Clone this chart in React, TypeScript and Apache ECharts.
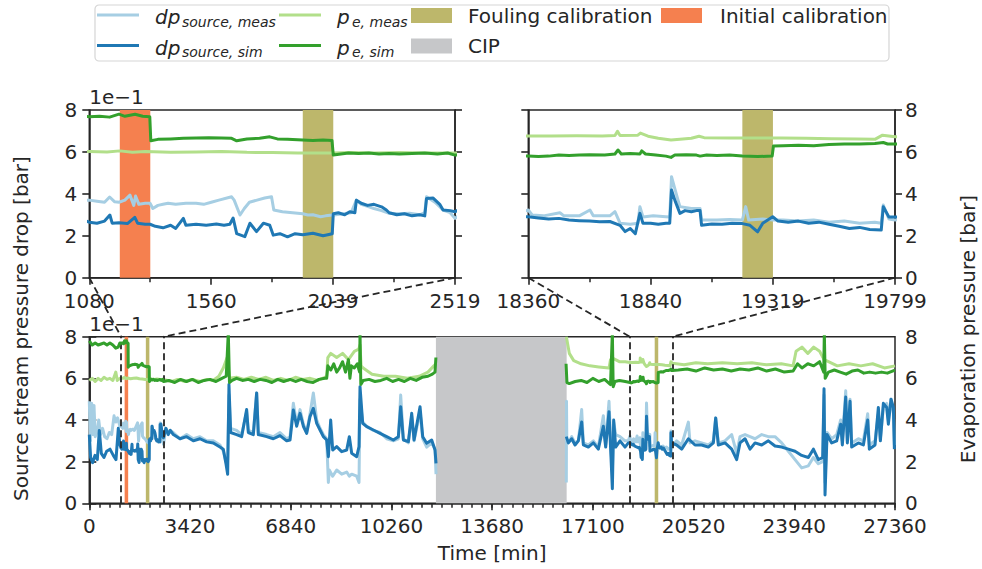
import React, { useEffect, useRef } from 'react';
import * as echarts from 'echarts';

// ---------------- data ----------------
const xMainMax = 27360;
const xMainInterval = 3420;
const xMainMinorInterval = 342;
const inset1Range = [1080, 2519];
const inset2Range = [18360, 19799];
const yMax = 8;

const regionKinds = ['Initial calibration', 'Fouling calibration', 'CIP'];
const regionStart = [1200, 1920, 19200, 11770];
const regionEnd = [1320, 2040, 19320, 16210];
const regionKind = [0, 1, 1, 2];

const dpSourceMeas: [number, number | null][] = [
  [0, 4.9], [40, 3.0], [80, 4.8], [120, 3.3], [160, 4.7], [200, 3.2], [260, 3.4], [320, 4.0], [380, 3.3], [450, 3.6], [520, 3.2], [600, 3.1], [680, 3.4], [760, 3.3], [840, 4.2], [900, 3.9], [960, 4.1], [1040, 3.7],
  [1080, 3.7], [1110, 3.65], [1140, 3.6], [1160, 3.85], [1180, 3.62], [1197, 3.6], [1220, 3.7], [1240, 3.94], [1255, 3.45], [1262, 3.9], [1275, 3.5], [1300, 3.55], [1319, 3.55], [1330, 3.3], [1350, 3.45], [1370, 3.5], [1390, 3.55], [1420, 3.5], [1460, 3.55], [1500, 3.55], [1530, 3.5], [1560, 3.6], [1590, 3.7], [1640, 3.86], [1650, 3.7], [1673, 2.99], [1690, 3.3], [1710, 3.6], [1740, 3.7], [1770, 3.8], [1797, 3.86], [1806, 3.23], [1840, 3.15], [1880, 3.1], [1920, 3.05], [1940, 2.99], [1960, 3.0], [1990, 2.91], [2010, 2.95], [2036, 2.99], [2050, 3.0], [2080, 3.05], [2110, 3.1], [2131, 3.7], [2150, 3.5], [2175, 3.4], [2200, 3.3], [2230, 3.2], [2260, 3.07], [2300, 3.05], [2340, 3.07], [2380, 3.0], [2400, 3.1], [2407, 3.86], [2440, 3.6], [2472, 3.23], [2500, 3.1], [2519, 2.83],
  [2600, 3.6], [2680, 3.4], [2750, 3.5], [2853, 3.4], [3079, 3.1], [3305, 3.3], [3532, 3.1], [3758, 3.2], [3985, 3.0], [4211, 3.0], [4437, 2.8], [4551, 2.5], [4641, 2.0], [4698, 2.1], [4743, 5.2], [4800, 3.6], [5003, 3.5], [5173, 3.3], [5343, 4.4], [5400, 3.5], [5570, 3.4], [5683, 5.3], [5739, 3.4], [6022, 3.3], [6249, 3.2], [6475, 3.4], [6702, 3.1],
  [6816, 3.2], [6929, 4.8], [7042, 3.8], [7156, 4.5], [7269, 3.8], [7382, 3.4], [7495, 4.3], [7608, 5.3], [7722, 4.0], [7835, 3.6], [7948, 3.3], [8061, 3.1], [8118, 1.0], [8150, 1.6], [8265, 1.3], [8401, 1.6], [8571, 1.4], [8741, 1.5], [8831, 1.3], [8910, 1.4], [9080, 1.3], [9159, 1.0], [9193, 5.0], [9284, 3.9], [9420, 3.7], [9646, 3.5], [9873, 3.4], [10099, 3.1], [10325, 3.0], [10495, 3.1], [10574, 5.2], [10665, 3.1], [10835, 2.9], [10948, 4.2], [11028, 3.0], [11231, 4.4], [11322, 3.1], [11457, 2.7], [11627, 2.9], [11740, 2.6], [11774, 1.4],
  [14000, null],
  [16199, 1.0], [16205, 4.9], [16215, 3.0], [16267, 2.9], [16381, 3.2], [16494, 2.9], [16607, 3.0], [16720, 4.5], [16777, 2.9], [16947, 2.8], [17117, 3.0], [17286, 2.7], [17456, 4.2], [17535, 2.8], [17648, 4.9], [17716, 2.6], [17762, 1.5], [17807, 3.9], [17875, 3.3], [18022, 3.2], [18192, 3.0], [18305, 3.0],
  [18360, 3.23], [18375, 2.99], [18420, 2.95], [18484, 3.1], [18500, 2.95], [18560, 2.95], [18602, 3.23], [18615, 2.95], [18680, 2.95], [18700, 3.15], [18720, 2.6], [18760, 2.55], [18790, 2.6], [18798, 3.39], [18810, 2.9], [18850, 2.95], [18900, 2.91], [18915, 2.9], [18922, 4.82], [18942, 3.94], [18955, 3.39], [19000, 3.3], [19034, 3.3], [19040, 2.75], [19100, 2.75], [19150, 2.78], [19200, 2.75], [19213, 3.39], [19225, 2.75], [19280, 2.8], [19319, 2.75], [19360, 2.75], [19420, 2.7], [19480, 2.75], [19540, 2.65], [19600, 2.7], [19660, 2.6], [19720, 2.65], [19745, 2.6], [19753, 3.47], [19775, 2.8], [19799, 2.75],
  [19947, 3.0], [20116, 2.8], [20343, 3.9], [20400, 2.9], [20569, 3.0], [20795, 2.9], [21022, 2.8], [21192, 3.0], [21271, 4.1], [21361, 2.9], [21588, 3.0], [21814, 3.3], [21984, 2.4], [22097, 3.2], [22267, 3.3], [22437, 3.2], [22607, 3.1], [22833, 3.3], [23059, 3.2], [23286, 3.2], [23512, 2.9], [23739, 2.5], [23965, 2.1], [24191, 1.7], [24418, 1.8], [24588, 2.2], [24757, 1.9], [24905, 2.0], [24950, 5.2], [24984, 1.0], [25052, 3.4], [25210, 3.1], [25380, 3.3], [25516, 4.0], [25572, 3.0], [25686, 5.4], [25742, 3.0], [25833, 5.0], [25889, 2.9], [26116, 3.1], [26286, 3.0], [26433, 4.3], [26489, 2.8], [26682, 3.0], [26795, 4.3], [26863, 3.1], [26965, 4.6], [27078, 4.8], [27135, 4.0], [27225, 5.0], [27305, 4.3], [27339, 2.8],
];

const dpSourceSim: [number, number | null][] = [
  [0, 3.3], [45, 2.2], [113, 1.95], [192, 2.3], [272, 2.1], [340, 3.5], [408, 2.4], [498, 2.2], [589, 2.5], [702, 2.6], [815, 2.3], [906, 2.1], [985, 3.6], [1041, 2.8],
  [1080, 2.65], [1110, 2.6], [1140, 2.7], [1161, 2.99], [1170, 2.6], [1197, 2.62], [1230, 2.58], [1259, 2.88], [1270, 2.6], [1300, 2.55], [1319, 2.55], [1340, 2.45], [1370, 2.38], [1400, 2.5], [1420, 2.35], [1450, 2.83], [1460, 2.5], [1500, 2.55], [1540, 2.5], [1580, 2.56], [1610, 2.5], [1633, 2.55], [1646, 2.85], [1660, 2.1], [1692, 1.96], [1712, 2.6], [1738, 2.2], [1765, 2.6], [1790, 2.5], [1804, 2.03], [1830, 2.1], [1860, 1.95], [1890, 2.1], [1920, 2.05], [1960, 2.12], [2000, 2.0], [2036, 2.1], [2040, 3.05], [2060, 3.1], [2085, 3.0], [2105, 3.15], [2125, 3.1], [2131, 3.7], [2150, 3.55], [2175, 3.45], [2200, 3.5], [2230, 3.38], [2249, 3.23], [2260, 3.1], [2290, 3.0], [2320, 3.05], [2350, 2.95], [2380, 3.0], [2400, 2.95], [2407, 3.78], [2433, 3.8], [2459, 3.5], [2472, 3.23], [2500, 3.2], [2519, 3.15],
  [2600, 3.6], [2680, 3.3], [2750, 3.5], [2853, 3.3], [3079, 3.1], [3305, 3.2], [3532, 3.0], [3758, 3.1], [3985, 2.95], [4211, 2.9], [4437, 2.7], [4551, 2.6], [4641, 1.9], [4698, 1.4], [4743, 5.7], [4800, 3.4], [5003, 3.3], [5173, 3.2], [5343, 4.5], [5400, 3.4], [5570, 3.3], [5683, 5.3], [5739, 3.3], [6022, 3.2], [6249, 3.1], [6475, 3.25], [6702, 3.0],
  [6816, 3.04], [6929, 4.48], [7042, 3.7], [7156, 4.32], [7269, 3.7], [7382, 3.36], [7495, 4.16], [7608, 4.56], [7722, 3.84], [7835, 3.52], [7948, 3.2], [8061, 3.04], [8118, 2.24], [8197, 4.0], [8265, 2.56], [8401, 2.72], [8571, 2.48], [8741, 2.56], [8831, 3.2], [8910, 2.4], [9080, 2.24], [9159, 2.72], [9193, 5.6], [9284, 3.84], [9420, 3.68], [9646, 3.52], [9873, 3.36], [10099, 3.2], [10325, 3.04], [10495, 3.2], [10574, 4.64], [10665, 3.04], [10835, 2.96], [10948, 4.32], [11028, 3.04], [11231, 4.64], [11322, 3.2], [11457, 2.88], [11627, 3.04], [11740, 2.56], [11774, 1.92],
  [14000, null],
  [16199, 3.2], [16267, 2.9], [16381, 3.1], [16494, 2.8], [16607, 3.0], [16720, 3.9], [16777, 2.8], [16947, 2.7], [17117, 2.9], [17286, 2.6], [17456, 3.7], [17535, 2.7], [17648, 4.4], [17716, 2.2], [17762, 0.7], [17807, 4.0], [17875, 2.7], [18022, 3.0], [18192, 2.7], [18305, 2.9],
  [18360, 2.91], [18400, 2.85], [18440, 2.8], [18480, 2.83], [18520, 2.75], [18560, 2.72], [18600, 2.7], [18640, 2.67], [18680, 2.68], [18720, 2.5], [18740, 2.2], [18760, 2.35], [18780, 2.1], [18798, 3.07], [18810, 2.6], [18840, 2.6], [18870, 2.55], [18900, 2.6], [18915, 2.6], [18922, 4.18], [18935, 3.7], [18955, 3.07], [18975, 3.2], [19000, 3.15], [19020, 3.2], [19034, 3.2], [19040, 2.5], [19080, 2.56], [19120, 2.55], [19160, 2.6], [19200, 2.58], [19230, 2.5], [19260, 2.19], [19280, 2.6], [19319, 2.91], [19340, 2.7], [19380, 2.65], [19420, 2.7], [19460, 2.6], [19500, 2.65], [19540, 2.55], [19580, 2.45], [19620, 2.35], [19660, 2.4], [19700, 2.3], [19745, 2.27], [19753, 3.39], [19775, 2.9], [19799, 2.9],
  [19947, 2.8], [20116, 2.6], [20343, 3.1], [20569, 2.8], [20795, 2.8], [21022, 2.7], [21192, 2.9], [21271, 4.1], [21361, 2.8], [21588, 2.9], [21814, 2.6], [21984, 2.1], [22097, 2.9], [22267, 3.1], [22437, 2.6], [22607, 2.9], [22833, 2.8], [23059, 3.0], [23286, 2.75], [23512, 2.7], [23739, 2.6], [23965, 2.5], [24191, 2.3], [24418, 2.2], [24588, 2.6], [24757, 2.1], [24905, 2.2], [24950, 5.5], [24984, 0.4], [25052, 3.3], [25210, 2.9], [25380, 3.0], [25516, 3.8], [25572, 2.8], [25686, 5.1], [25742, 2.9], [25833, 4.9], [25889, 2.7], [26116, 2.9], [26286, 2.8], [26433, 4.0], [26489, 2.6], [26682, 2.8], [26795, 4.6], [26863, 3.0], [26965, 4.8], [27078, 4.6], [27135, 3.8], [27225, 5.0], [27305, 4.6], [27339, 2.6],
];

const peMeas: [number, number | null][] = [
  [0, 5.9], [100, 6.0], [200, 5.85], [300, 6.0], [400, 5.9], [500, 6.05], [600, 5.95], [700, 6.0], [800, 5.9], [900, 6.3], [950, 5.9], [1040, 6.0],
  [1080, 6.02], [1150, 6.0], [1200, 6.05], [1250, 5.98], [1300, 6.02], [1400, 5.98], [1500, 6.0], [1600, 6.02], [1700, 5.98], [1800, 5.97], [1900, 5.95], [2000, 5.95], [2040, 5.95], [2100, 5.97], [2200, 5.95], [2300, 5.97], [2400, 5.95], [2519, 5.95],
  [2800, 5.85], [3000, 5.95], [3250, 5.85], [3500, 5.95], [3750, 5.85], [4000, 5.95], [4200, 5.9], [4400, 6.1], [4550, 6.5], [4680, 7.0], [4720, 6.5], [4760, 6.0], [5000, 6.05], [5250, 5.95], [5500, 6.05], [5750, 5.95], [6000, 6.05], [6250, 5.9], [6500, 6.0], [6750, 5.9], [7000, 6.05], [7250, 5.95], [7500, 6.0], [7750, 5.9], [8000, 6.05], [8061, 6.1], [8100, 7.0], [8200, 7.2], [8400, 7.0], [8600, 7.2], [8800, 6.9], [9000, 7.3], [9150, 7.4], [9193, 7.6], [9230, 6.6], [9300, 6.5], [9600, 6.2], [10000, 6.1], [10400, 6.1], [10800, 6.0], [11200, 6.1], [11500, 6.3], [11700, 6.6], [11770, 6.7],
  [14000, null],
  [16200, 8.0], [16300, 7.2], [16450, 6.85], [16700, 6.7], [17000, 6.6], [17300, 6.55], [17650, 6.5], [17700, 6.9], [17800, 6.95], [18000, 6.8], [18200, 6.8],
  [18360, 6.76], [18450, 6.76], [18550, 6.77], [18650, 6.76], [18700, 6.78], [18710, 6.98], [18720, 6.78], [18790, 6.8], [18800, 6.9], [18830, 6.75], [18870, 6.65], [18920, 6.57], [18955, 6.6], [19000, 6.65], [19030, 6.75], [19050, 6.68], [19150, 6.67], [19250, 6.66], [19350, 6.67], [19450, 6.65], [19550, 6.63], [19650, 6.62], [19720, 6.6], [19750, 6.8], [19799, 6.72],
  [20200, 6.65], [20600, 6.75], [21000, 6.7], [21500, 6.75], [22000, 6.7], [22500, 6.75], [23000, 6.65], [23500, 6.7], [23900, 6.6], [24000, 7.3], [24200, 7.5], [24400, 7.2], [24600, 7.5], [24800, 7.3], [24950, 6.9], [25100, 6.8], [25400, 6.6], [25800, 6.7], [26200, 6.6], [26600, 6.7], [27000, 6.5], [27360, 6.6],
];

const peSim: [number, number | null][] = [
  [0, 7.8], [100, 7.6], [200, 7.7], [300, 7.6], [400, 7.65], [500, 7.7], [600, 7.6], [700, 7.7], [800, 7.6], [900, 7.45], [980, 7.5], [1040, 7.7],
  [1080, 7.68], [1120, 7.7], [1160, 7.66], [1197, 7.8], [1220, 7.7], [1260, 7.8], [1290, 7.7], [1318, 7.68], [1322, 6.53], [1350, 6.6], [1400, 6.62], [1450, 6.65], [1500, 6.66], [1550, 6.68], [1600, 6.67], [1640, 6.65], [1660, 6.53], [1700, 6.62], [1750, 6.65], [1790, 6.72], [1820, 6.62], [1860, 6.6], [1920, 6.57], [1960, 6.55], [2000, 6.57], [2035, 6.55], [2040, 5.85], [2070, 5.9], [2100, 5.95], [2140, 5.92], [2180, 5.95], [2220, 5.9], [2260, 5.93], [2300, 5.9], [2350, 5.92], [2400, 5.95], [2450, 5.9], [2490, 5.95], [2519, 5.85],
  [2700, 5.9], [2900, 5.8], [3100, 5.95], [3300, 5.85], [3500, 5.95], [3700, 5.8], [3900, 5.9], [4100, 5.95], [4300, 5.85], [4500, 6.0], [4650, 6.1], [4720, 8.2], [4760, 5.8], [4850, 5.9], [5000, 6.0], [5200, 5.9], [5400, 5.95], [5600, 5.85], [5800, 5.95], [6000, 5.9], [6200, 5.8], [6400, 5.95], [6600, 5.85], [6816, 5.95], [7000, 5.85], [7200, 5.95], [7400, 5.85], [7600, 5.8], [7800, 5.95], [8000, 6.0], [8061, 6.0], [8100, 6.6], [8200, 6.4], [8300, 6.7], [8400, 6.3], [8500, 6.5], [8600, 6.8], [8700, 6.3], [8800, 6.9], [8850, 6.0], [8900, 6.6], [9000, 6.5], [9100, 6.7], [9180, 6.3], [9193, 8.2], [9220, 5.7], [9300, 5.9], [9500, 5.95], [9700, 5.85], [9900, 5.9], [10100, 6.0], [10300, 5.85], [10500, 5.95], [10700, 5.85], [10900, 6.0], [11100, 5.9], [11300, 6.05], [11500, 6.1], [11650, 6.2], [11740, 6.3], [11770, 7.0],
  [14000, null],
  [16190, 6.7], [16220, 5.8], [16300, 5.75], [16500, 5.85], [16700, 5.9], [16900, 5.8], [17100, 6.0], [17300, 5.85], [17500, 5.95], [17700, 5.7], [17762, 8.2], [17790, 5.6], [17850, 5.85], [18000, 5.9], [18200, 5.85],
  [18360, 5.8], [18400, 5.78], [18440, 5.8], [18480, 5.85], [18520, 5.83], [18560, 5.85], [18600, 5.87], [18660, 5.85], [18700, 5.9], [18712, 6.09], [18725, 5.9], [18760, 5.92], [18798, 5.9], [18805, 6.05], [18820, 5.9], [18860, 5.85], [18900, 5.8], [18920, 5.74], [18935, 5.85], [18980, 5.87], [19020, 5.85], [19034, 5.8], [19060, 5.85], [19100, 5.83], [19150, 5.85], [19200, 5.8], [19260, 5.78], [19317, 5.8], [19322, 6.28], [19360, 6.3], [19420, 6.32], [19480, 6.3], [19540, 6.35], [19600, 6.38], [19660, 6.38], [19720, 6.4], [19753, 6.45], [19770, 6.38], [19799, 6.38],
  [20000, 6.4], [20300, 6.45], [20600, 6.35], [20900, 6.5], [21200, 6.4], [21500, 6.45], [21800, 6.35], [22100, 6.45], [22400, 6.4], [22700, 6.5], [23000, 6.35], [23300, 6.45], [23600, 6.3], [23900, 6.35], [24050, 6.7], [24200, 6.5], [24400, 6.7], [24600, 6.6], [24800, 6.8], [24940, 6.3], [24960, 8.2], [24990, 6.0], [25100, 6.3], [25300, 6.4], [25500, 6.3], [25700, 6.2], [25900, 6.35], [26100, 6.4], [26300, 6.25], [26500, 6.3], [26700, 6.25], [26900, 6.3], [27100, 6.25], [27360, 6.4],
];

// ---------------- styling ----------------
const FONT = 'DejaVu Sans';
const INK = '#262626';
const C_DP_MEAS = '#a6cee3';
const C_DP_SIM = '#1f78b4';
const C_PE_MEAS = '#b2df8a';
const C_PE_SIM = '#33a02c';
const REGION_COLORS = ['#f5804f', '#bdb76b', '#c6c7c9'];

function thirds(r: number[]) {
  const d = (r[1] - r[0]) / 3;
  return [r[0], r[0] + d, r[0] + 2 * d, r[1]];
}
function sixthsMinor(r: number[]) {
  const d = (r[1] - r[0]) / 6;
  return [r[0] + d, r[0] + 3 * d, r[0] + 5 * d];
}

const labelStyle = { color: INK, fontFamily: FONT, fontSize: 20 };
const majorTick = { show: true, length: 7, lineStyle: { color: INK, width: 1.6 } };
const minorTick = { show: true, length: 4.5, lineStyle: { color: INK, width: 1.5 } };

function xAxisBase(gridIndex: number, min: number, max: number) {
  return {
    type: 'value', gridIndex, min, max, position: 'bottom',
    axisLine: { show: true, onZero: false, lineStyle: { color: INK, width: 1.5 } },
    axisTick: majorTick,
    splitLine: { show: false },
    axisLabel: { ...labelStyle, margin: 13 },
  };
}
function yAxisBase(gridIndex: number, position: string, showLabel: boolean) {
  return {
    type: 'value', gridIndex, position, min: 0, max: yMax, interval: 2,
    axisLine: { show: true, lineStyle: { color: INK, width: 1.5 } },
    axisTick: majorTick,
    splitLine: { show: false },
    axisLabel: { ...labelStyle, show: showLabel, margin: position === 'left' ? 12 : 10 },
  };
}

function buildOption() {
  const grids = [
    { left: 89.3, top: 336.7, width: 805.7, height: 166.6 },
    { left: 89.3, top: 110, width: 365.7, height: 167.7 },
    { left: 528.3, top: 110, width: 366.7, height: 167.7 },
  ].map((g) => ({ ...g, show: true, borderColor: INK, borderWidth: 1.5, backgroundColor: 'transparent', containLabel: false }));

  const xAxes: any[] = [
    {
      ...xAxisBase(0, 0, xMainMax), interval: xMainInterval,
      axisLabel: { ...labelStyle, margin: 13, formatter: (v: number) => String(v) },
    },
    {
      ...xAxisBase(1, inset1Range[0], inset1Range[1]),
      axisTick: { ...majorTick, customValues: thirds(inset1Range) },
      axisLabel: { ...labelStyle, margin: 13, customValues: thirds(inset1Range), formatter: (v: number) => String(Math.round(v)) },
    },
    {
      ...xAxisBase(2, inset2Range[0], inset2Range[1]),
      axisTick: { ...majorTick, customValues: thirds(inset2Range) },
      axisLabel: { ...labelStyle, margin: 13, customValues: thirds(inset2Range), formatter: (v: number) => String(Math.round(v)) },
    },
    {
      ...xAxisBase(1, inset1Range[0], inset1Range[1]),
      axisLine: { show: false },
      axisTick: { ...minorTick, customValues: sixthsMinor(inset1Range) },
      axisLabel: { show: false, customValues: sixthsMinor(inset1Range) },
    },
    {
      ...xAxisBase(2, inset2Range[0], inset2Range[1]),
      axisLine: { show: false },
      axisTick: { ...minorTick, customValues: sixthsMinor(inset2Range) },
      axisLabel: { show: false, customValues: sixthsMinor(inset2Range) },
    },
    {
      ...xAxisBase(0, 0, xMainMax), interval: xMainMinorInterval,
      axisLine: { show: false },
      axisTick: minorTick,
      axisLabel: { show: false },
    },
  ];

  const yAxes = [
    yAxisBase(0, 'left', true), yAxisBase(0, 'right', true),
    yAxisBase(1, 'left', true), yAxisBase(1, 'right', false),
    yAxisBase(2, 'left', false), yAxisBase(2, 'right', true),
  ];

  const regionData = regionStart.map((s, i) => [s, regionEnd[i], regionKind[i]]);
  const series: any[] = [];
  [0, 1, 2].forEach((g) => {
    const xi = g, yi = g * 2;
    const lw = 3;
    series.push({
      type: 'custom', xAxisIndex: xi, yAxisIndex: yi, z: 1, silent: true,
      data: regionData, encode: { x: [0, 1] },
      renderItem: (params: any, api: any) => {
        const p0 = api.coord([api.value(0), yMax]);
        const p1 = api.coord([api.value(1), 0]);
        const cs = params.coordSys;
        const rect = echarts.graphic.clipRectByRect(
          { x: p0[0], y: p0[1], width: p1[0] - p0[0], height: p1[1] - p0[1] },
          { x: cs.x, y: cs.y, width: cs.width, height: cs.height }
        );
        if (!rect) return null;
        return { type: 'rect', shape: rect, style: { fill: REGION_COLORS[api.value(2)] } };
      },
    });
    const mk = (name: string, data: any, color: string, z: number) => ({
      name, type: 'line', xAxisIndex: xi, yAxisIndex: yi, data, z,
      showSymbol: false, symbol: 'none', clip: true, connectNulls: false, silent: true,
      lineStyle: { color, width: lw, join: 'round' },
    });
    series.push(mk('dp_source_meas', dpSourceMeas, C_DP_MEAS, 2));
    series.push(mk('dp_source_sim', dpSourceSim, C_DP_SIM, 3));
    series.push(mk('p_e_meas', peMeas, C_PE_MEAS, 4));
    const last: any = mk('p_e_sim', peSim, C_PE_SIM, 5);
    if (g === 0) {
      last.markLine = {
        silent: true, symbol: ['none', 'none'], label: { show: false },
        lineStyle: { color: INK, width: 1.8, type: [7, 4] },
        data: [inset1Range[0], inset1Range[1], inset2Range[0], inset2Range[1]].map((v) => ({ xAxis: v })),
      };
    }
    series.push(last);
  });

  return {
    animation: false,
    backgroundColor: '#ffffff',
    grid: grids,
    xAxis: xAxes,
    yAxis: yAxes,
    series,
  };
}

function legendGraphics() {
  const els: any[] = [];
  els.push({ type: 'rect', z: 100, shape: { x: 95, y: 5, width: 794, height: 56, r: 4 }, style: { fill: '#ffffff', stroke: '#d5d5d5', lineWidth: 1.2 } });
  const rows = [17, 47.5];
  const lineItems = [
    { x: 97, row: 0, color: C_DP_MEAS, main: 'dp', sub: 'source, meas', tx: 155, sx: 182 },
    { x: 97, row: 1, color: C_DP_SIM, main: 'dp', sub: 'source, sim', tx: 155, sx: 182 },
    { x: 279, row: 0, color: C_PE_MEAS, main: 'p', sub: 'e, meas', tx: 337, sx: 352 },
    { x: 279, row: 1, color: C_PE_SIM, main: 'p', sub: 'e, sim', tx: 337, sx: 352 },
  ];
  lineItems.forEach((it) => {
    const yc = rows[it.row] - 2;
    els.push({ type: 'line', z: 101, shape: { x1: it.x, y1: yc, x2: it.x + 42, y2: yc }, style: { stroke: it.color, lineWidth: 3 } });
    els.push({ type: 'text', z: 101, x: it.tx, y: rows[it.row], style: { text: it.main, fontFamily: FONT, fontSize: 20, fontStyle: 'italic', fill: INK, verticalAlign: 'middle', align: 'left' } });
    els.push({ type: 'text', z: 101, x: it.sx, y: rows[it.row] + 4.6, style: { text: it.sub, fontFamily: FONT, fontSize: 14, fontStyle: 'italic', fill: INK, verticalAlign: 'middle', align: 'left' } });
  });
  const patchItems = [
    { x: 411, row: 0, kind: 1, tx: 468 },
    { x: 411, row: 1, kind: 2, tx: 468 },
    { x: 661, row: 0, kind: 0, tx: 720 },
  ];
  patchItems.forEach((it) => {
    const y0 = it.row === 0 ? 8 : 38.5;
    els.push({ type: 'rect', z: 101, shape: { x: it.x, y: y0, width: 41, height: 15 }, style: { fill: REGION_COLORS[it.kind] } });
    els.push({ type: 'text', z: 101, x: it.tx, y: y0 + 7.8, style: { text: regionKinds[it.kind], fontFamily: FONT, fontSize: 20, fill: INK, verticalAlign: 'middle', align: 'left' } });
  });
  return els;
}

export default function App() {
  const ref = useRef<HTMLDivElement>(null);
  useEffect(() => {
    const chart = echarts.init(ref.current!, undefined, { renderer: 'svg', width: 982, height: 569 });
    chart.setOption(buildOption());

    const px = (grid: number, v: number[]) => chart.convertToPixel({ gridIndex: grid } as any, v) as number[];
    const dashStyle = { stroke: INK, lineWidth: 1.8, lineDash: [7, 4] };
    const connectors: any[] = [];
    ([[1, inset1Range], [2, inset2Range]] as [number, number[]][]).forEach(([g, r]) => {
      r.forEach((v) => {
        const a = px(g, [v, 0]);
        const b = px(0, [v, yMax]);
        connectors.push({ type: 'line', z: 50, silent: true, shape: { x1: a[0], y1: a[1], x2: b[0], y2: b[1] }, style: dashStyle });
      });
    });

    const mainTL = px(0, [0, yMax]);
    const insTL = px(1, [inset1Range[0], yMax]);
    const mainBR = px(0, [xMainMax, 0]);
    const texts: any[] = [
      { type: 'text', z: 60, x: insTL[0], y: insTL[1] - 13, style: { text: '1e\u22121', fontFamily: FONT, fontSize: 20, fill: INK, verticalAlign: 'middle', align: 'left' } },
      { type: 'text', z: 60, x: mainTL[0], y: mainTL[1] - 13, style: { text: '1e\u22121', fontFamily: FONT, fontSize: 20, fill: INK, verticalAlign: 'middle', align: 'left' } },
      { type: 'text', z: 60, x: (mainTL[0] + mainBR[0]) / 2, y: 553, style: { text: 'Time [min]', fontFamily: FONT, fontSize: 20, fill: INK, verticalAlign: 'middle', align: 'center' } },
      { type: 'text', z: 60, x: 21, y: 328.5, rotation: Math.PI / 2, style: { text: 'Source stream pressure drop [bar]', fontFamily: FONT, fontSize: 20, fill: INK, verticalAlign: 'middle', align: 'center' } },
      { type: 'text', z: 60, x: 967.7, y: 329, rotation: Math.PI / 2, style: { text: 'Evaporation pressure [bar]', fontFamily: FONT, fontSize: 20, fill: INK, verticalAlign: 'middle', align: 'center' } },
    ];

    chart.setOption({ graphic: [...connectors, ...texts, ...legendGraphics()] });
    return () => chart.dispose();
  }, []);
  return <div ref={ref} style={{ position: 'fixed', left: 0, top: 0, width: 982, height: 569, background: '#fff' }} />;
}
